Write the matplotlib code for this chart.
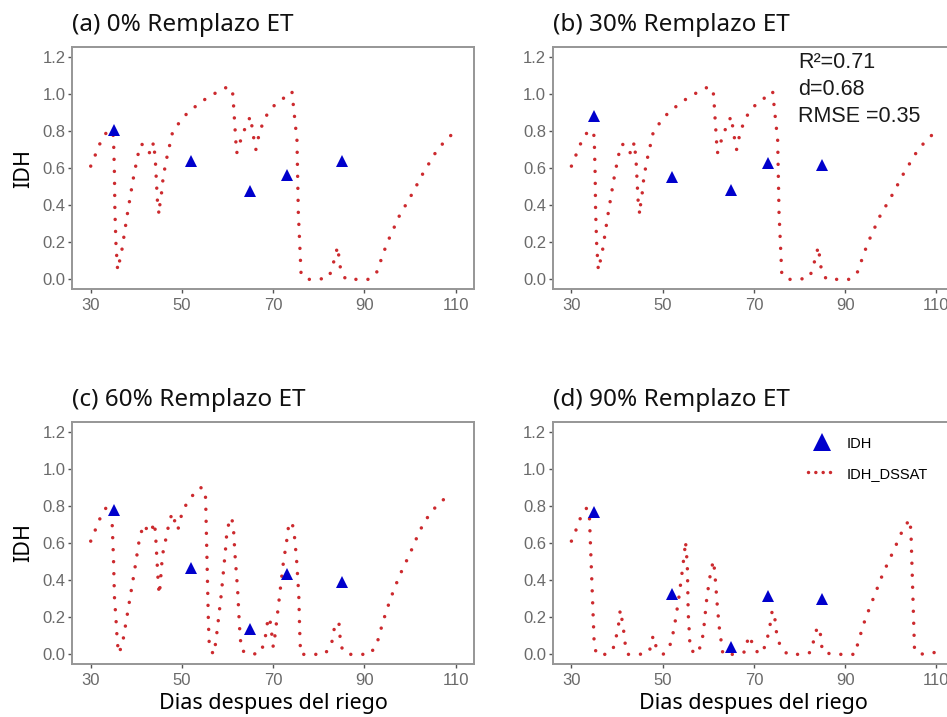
import numpy as np
import matplotlib
matplotlib.use('Agg')
import matplotlib.pyplot as plt
from matplotlib.lines import Line2D

# observed IDH (triangles)
obs_days = [35, 52, 65, 73, 85]
obs_a = [0.805, 0.64, 0.476, 0.56, 0.636]
obs_b = [0.882, 0.55, 0.481, 0.629, 0.618]
obs_c = [0.778, 0.465, 0.135, 0.433, 0.392]
obs_d = [0.769, 0.323, 0.041, 0.314, 0.30]

# simulated IDH_DSSAT, panels a and b share the same curve
sim_ab_days = [30, 31, 32, 33.4, 34.8, 35.0, 35.2, 35.3, 35.55, 35.9, 36.8, 38.0, 39.3,
               40.3, 41.0, 42.3, 43.0, 43.8, 44.2, 44.6, 44.97, 45.2, 45.6, 45.85, 46.3,
               46.8, 47.4, 48.0, 49.6, 51.3, 53.4, 55.6, 57.8, 60.2, 61.1, 61.3, 61.8,
               62.0, 62.4, 63.1, 64.0, 65.0, 65.4, 65.8, 66.2, 66.8, 67.5, 68.6, 70.2,
               72.2, 74.1, 74.4, 75.2, 75.5, 76.1, 77.3, 79.9, 82.2, 83.0, 84.1, 84.8,
               85.9, 88.4, 91.1, 92.7, 94.5, 95.4, 97.6, 100.3, 102.8, 105.5, 107.1, 109.1]
sim_ab_vals = [0.61, 0.67, 0.73, 0.79, 0.80, 0.76, 0.57, 0.37, 0.18, 0.05, 0.153, 0.347, 0.539,
               0.666, 0.729, 0.718, 0.675, 0.739, 0.625, 0.43, 0.35, 0.415, 0.478, 0.544, 0.607,
               0.67, 0.733, 0.80, 0.85, 0.90, 0.94, 0.98, 1.01, 1.04, 1.006, 0.94, 0.745,
               0.68, 0.716, 0.766, 0.826, 0.878, 0.814, 0.75, 0.70, 0.77, 0.826, 0.886, 0.936,
               0.975, 1.013, 0.94, 0.75, 0.36, 0.03, 0.0, 0.0, 0.01, 0.07, 0.176, 0.047,
               0.0, 0.0, 0.0, 0.04, 0.165, 0.22, 0.34, 0.455, 0.57, 0.68, 0.73, 0.78]

sim_c_days = [30, 31, 32, 33.3, 34.6, 34.7, 35.0, 35.2, 35.55, 35.85, 36.2, 37.0, 38.3,
              39.6, 40.8, 41.8, 42.6, 43.4, 43.95, 44.2, 44.5, 44.8, 45.0, 45.2, 45.6,
              45.9, 46.5, 47.0, 47.75, 48.1, 48.6, 49.1, 49.7, 50.75, 52.1, 54.0, 55.1,
              55.2, 55.8, 56.0, 56.9, 57.4, 58.6, 59.6, 59.8, 60.3, 60.9, 61.3, 61.6,
              62.2, 62.6, 63.0, 64.7, 67.1, 68.1, 68.9, 69.4, 70.0, 70.4, 71.0, 72.2,
              73.0, 73.3, 74.1, 74.6, 75.1, 75.6, 75.8, 76.0, 78.6, 81.2, 82.7, 83.6,
              84.4, 84.6, 84.9, 86.1, 88.7, 91.2, 92.7, 94.1, 95.7, 97.6, 100.0, 102.0,
              103.3, 104.9, 106.6, 108.7]
sim_c_vals = [0.61, 0.67, 0.73, 0.787, 0.79, 0.706, 0.51, 0.31, 0.185, 0.059, 0.005, 0.063, 0.257,
              0.45, 0.643, 0.70, 0.655, 0.673, 0.711, 0.652, 0.517, 0.386, 0.323, 0.364, 0.496,
              0.558, 0.625, 0.687, 0.756, 0.76, 0.69, 0.67, 0.736, 0.80, 0.85, 0.90, 0.885,
              0.82, 0.167, 0.04, 0.0, 0.063, 0.32, 0.58, 0.648, 0.71, 0.738, 0.673, 0.544,
              0.346, 0.152, 0.023, 0.0, 0.005, 0.065, 0.2, 0.17, 0.04, 0.104, 0.233, 0.49,
              0.62, 0.68, 0.715, 0.65, 0.517, 0.32, 0.127, 0.0, 0.0, 0.0, 0.045, 0.17,
              0.17, 0.105, 0.04, 0.0, 0.0, 0.0, 0.055, 0.18, 0.30, 0.42, 0.545, 0.66,
              0.72, 0.775, 0.82, 0.86]

sim_d_days = [30, 31, 31.9, 33.3, 33.9, 34.0, 35.0, 35.5, 38.0, 39.3, 39.9, 40.4, 40.7,
              41.1, 41.5, 41.8, 42.4, 45.0, 47.1, 47.6, 48.0, 48.6, 50.1, 51.5, 52.2,
              52.7, 53.5, 54.2, 54.8, 55.0, 55.2, 55.4, 55.6, 55.9, 56.0, 57.5, 58.4,
              58.9, 59.7, 60.5, 61.1, 61.4, 62.0, 62.5, 62.9, 63.2, 65.9, 68.1, 68.6,
              69.2, 69.8, 71.3, 72.5, 73.1, 73.6, 74.0, 74.5, 74.7, 75.1, 75.9, 77.4,
              80.0, 82.4, 83.1, 83.8, 84.4, 84.7, 85.0, 87.1, 92.2, 92.8, 94.4, 96.3,
              98.3, 100.5, 102.6, 104.1, 104.4, 105.2, 107.1, 109.6]
sim_d_vals = [0.61, 0.67, 0.73, 0.787, 0.775, 0.706, 0.054, 0.0, 0.0, 0.04, 0.104, 0.17, 0.24,
              0.185, 0.118, 0.054, 0.0, 0.0, 0.014, 0.08, 0.10, 0.036, 0.0, 0.04, 0.104,
              0.17, 0.296, 0.43, 0.553, 0.61, 0.548, 0.485, 0.22, 0.092, 0.027, 0.0, 0.05,
              0.113, 0.31, 0.44, 0.505, 0.449, 0.253, 0.122, 0.059, 0.0, 0.0, 0.014, 0.074,
              0.10, 0.036, 0.0, 0.045, 0.104, 0.167, 0.235, 0.226, 0.158, 0.095, 0.036, 0.0,
              0.0, 0.01, 0.074, 0.14, 0.145, 0.08, 0.015, 0.0, 0.0, 0.063, 0.19, 0.31,
              0.437, 0.553, 0.67, 0.727, 0.67, 0.018, 0.0, 0.01]

titles = ['(a) 0% Remplazo ET', '(b) 30% Remplazo ET',
          '(c) 60% Remplazo ET', '(d) 90% Remplazo ET']
x_ticks = [30, 50, 70, 90, 110]
y_ticks = [0.0, 0.2, 0.4, 0.6, 0.8, 1.0, 1.2]
stats_lines = ['R\u00b2=0.71', 'd=0.68', 'RMSE =0.35']

red = '#cc2a2e'
blue = '#0000cc'
border = '#969696'
tick_col = '#6a6a6a'
title_font = 'Noto Sans'
num_font = 'Liberation Sans'

fig = plt.figure(figsize=(9.47, 7.17), dpi=100)

# axes positions (left, bottom, width, height) in figure fraction
W = 402 / 947
H = 242 / 717
positions = [(72 / 947, 1 - 289 / 717, W, H),
             (552.7 / 947, 1 - 289 / 717, W, H),
             (72 / 947, 1 - 664 / 717, W, H),
             (552.7 / 947, 1 - 664 / 717, W, H)]

panels = [(sim_ab_days, sim_ab_vals, obs_a),
          (sim_ab_days, sim_ab_vals, obs_b),
          (sim_c_days, sim_c_vals, obs_c),
          (sim_d_days, sim_d_vals, obs_d)]

axes = []
for i, (pos, (sd, sv, ob)) in enumerate(zip(positions, panels)):
    ax = fig.add_axes(pos)
    axes.append(ax)
    ax.plot(sd, sv, color=red, lw=2.5, linestyle=(0, (0.01, 3.45)),
            dash_capstyle='round', zorder=2)
    ax.plot(obs_days, ob, linestyle='none', marker='^', markersize=8.5,
            color=blue, markeredgewidth=0, zorder=3)
    ax.set_xlim(25.9, 114.0)
    ax.set_ylim(-0.052, 1.252)
    ax.set_xticks(x_ticks)
    ax.set_yticks(y_ticks)
    ax.set_xticklabels([str(t) for t in x_ticks])
    ax.set_yticklabels(['%.1f' % t for t in y_ticks])
    for lab in ax.get_xticklabels() + ax.get_yticklabels():
        lab.set_fontfamily(num_font)
    ax.tick_params(axis='both', direction='out', length=3.2, width=1.0,
                   color='#555555', labelcolor=tick_col, labelsize=12)
    ax.tick_params(axis='x', pad=3)
    ax.tick_params(axis='y', pad=1.5)
    for sp in ax.spines.values():
        sp.set_color(border)
        sp.set_linewidth(1.4)
    ax.set_title(titles[i], loc='left', fontsize=17.5, family=title_font,
                 pad=11.5, color='#111111')
    if i in (0, 2):
        ax.set_ylabel('IDH', fontsize=15.5, family=title_font, labelpad=6)
    if i in (2, 3):
        ax.set_xlabel('Dias despues del riego', fontsize=15.5,
                      family=title_font, labelpad=4)

# goodness-of-fit text in panel (b)
for k, line in enumerate(stats_lines):
    axes[1].text(79.75, 1.166 - k * 0.1455, line, fontsize=15.5, family=num_font,
                 va='center', ha='left', color='#1a1a1a')

# legend in panel (d)
handles = [Line2D([], [], linestyle='none', marker='^', markersize=12.5,
                  color=blue, markeredgewidth=0),
           Line2D([], [], color=red, lw=2.5, linestyle=(0, (0.01, 2.1)),
                  dash_capstyle='round')]
leg = axes[3].legend(handles, ['IDH', 'IDH_DSSAT'], loc='upper left',
                     bbox_to_anchor=((808 - 552.7) / 402, 0.94),
                     frameon=False, borderpad=0, borderaxespad=0,
                     handlelength=1.9, handletextpad=0.75, labelspacing=1.1,
                     prop={'family': num_font, 'size': 10.5})

fig.savefig('out.png', dpi=100)
